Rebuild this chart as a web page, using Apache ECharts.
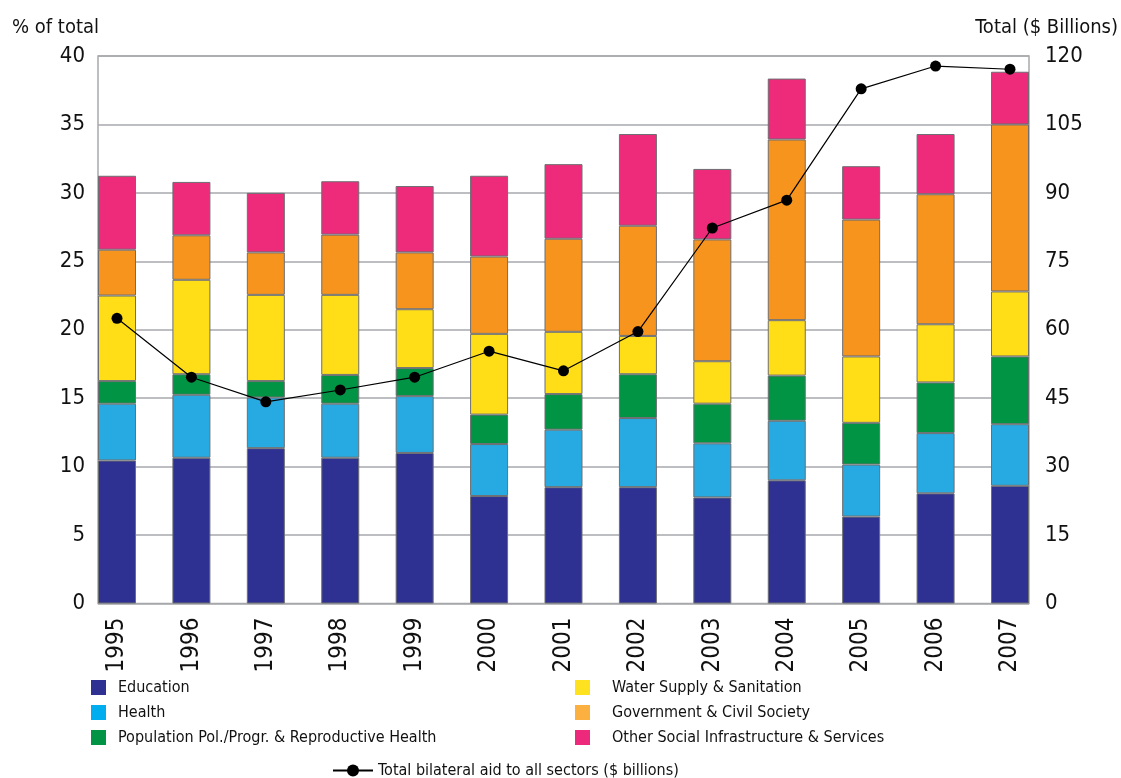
<!DOCTYPE html>
<html>
<head>
<meta charset="utf-8">
<script src="https://cdn.jsdelivr.net/npm/echarts@6/dist/echarts.min.js"></script>
<style>
html,body{margin:0;padding:0;background:#fff;}
#chart{width:1121px;height:778px;}
</style>
</head>
<body>
<div id="chart"></div>
<script>
const years = ['1995','1996','1997','1998','1999','2000','2001','2002','2003','2004','2005','2006','2007'];
const education  = [10.45,10.65,11.35,10.65,11.0,7.85,8.5,8.5,7.75,9.0,6.35,8.05,8.6];
const health     = [4.15,4.6,3.7,3.95,4.15,3.8,4.2,5.05,3.95,4.35,3.8,4.4,4.5];
const population = [1.65,1.5,1.2,2.1,2.05,2.15,2.6,3.2,2.9,3.3,3.05,3.7,4.95];
const water      = [6.25,6.9,6.3,5.85,4.3,5.9,4.55,2.8,3.1,4.05,4.85,4.25,4.75];
const government = [3.35,3.25,3.1,4.4,4.15,5.65,6.8,8.05,8.9,13.2,10.0,9.5,12.2];
const otherSocial= [5.4,3.9,4.35,3.9,4.85,5.9,5.45,6.7,5.15,4.45,3.9,4.4,3.85];
const totalAid   = [62.5,49.6,44.2,46.8,49.6,55.3,51.0,59.6,82.3,88.4,112.8,117.8,117.1];
const leftTicks  = [0,40,5];   // min, max, interval (% of total)
const rightTicks = [0,120,15]; // min, max, interval ($ billions)

const FONT = "'DejaVu Sans Condensed','Liberation Sans Narrow','Liberation Sans',sans-serif";
const names = ['Education','Health','Population Pol./Progr. & Reproductive Health','Water Supply & Sanitation','Government & Civil Society','Other Social Infrastructure & Services'];
const colors = ['#2E3192','#27AAE1','#009444','#FFDE17','#F7941D','#EE2A7B'];
const legendColors = ['#2E3192','#00AEEF','#009444','#FFE21F','#FBB040','#EC297B'];
const dataSets = [education,health,population,water,government,otherSocial];
const lineName = 'Total bilateral aid to all sectors ($ billions)';

const chart = echarts.init(document.getElementById('chart'), null, {renderer:'canvas'});
const gridTop = 56, gridBottom = 174.5;

const barSeries = names.map((n,i)=>({
  name:n, type:'bar', stack:'s', xAxisIndex:1, yAxisIndex:2,
  barWidth:38,
  itemStyle:{color:colors[i], borderColor:'#6D6E71', borderWidth:1},
  data: dataSets[i]
}));

const legText = {fontSize:16, color:'#111', fontFamily:FONT, lineHeight:15};

chart.setOption({
  animation:false,
  backgroundColor:'#fff',
  grid:[
    {left:98, right:92, top:gridTop, bottom:gridBottom, show:true, borderColor:'#A7A9AC', borderWidth:1.5, backgroundColor:'transparent'},
    {left:117, right:111, top:gridTop, bottom:gridBottom}
  ],
  xAxis:[
    {type:'value', gridIndex:0, min:0, max:1, show:false},
    {type:'category', gridIndex:1, data:years, boundaryGap:false,
     axisLine:{show:false}, axisTick:{show:false},
     axisLabel:{rotate:90, margin:14, fontSize:24, color:'#111', fontFamily:FONT, interval:0}}
  ],
  yAxis:[
    {type:'value', gridIndex:0, min:leftTicks[0], max:leftTicks[1], interval:leftTicks[2], position:'left',
     name:'% of total', nameLocation:'end', nameGap:18,
     nameTextStyle:{fontSize:20, color:'#111', fontFamily:FONT, align:'right', padding:[0,-1,0,0]},
     axisLine:{show:false}, axisTick:{show:false},
     axisLabel:{fontSize:22, color:'#111', fontFamily:FONT, margin:13},
     splitLine:{lineStyle:{color:'#A7A9AC', width:1.5}}},
    {type:'value', gridIndex:0, min:rightTicks[0], max:rightTicks[1], interval:rightTicks[2], position:'right',
     name:'Total ($ Billions)', nameLocation:'end', nameGap:18,
     nameTextStyle:{fontSize:20, color:'#111', fontFamily:FONT, align:'right', padding:[0,-89,0,0]},
     axisLine:{show:false}, axisTick:{show:false},
     axisLabel:{fontSize:22, color:'#111', fontFamily:FONT, margin:16},
     splitLine:{show:false}},
    {type:'value', gridIndex:1, min:leftTicks[0], max:leftTicks[1], show:false},
    {type:'value', gridIndex:1, min:rightTicks[0], max:rightTicks[1], show:false}
  ],
  legend:[
    {left:86, top:674.5, orient:'vertical', icon:'rect', itemWidth:15, itemHeight:15, itemGap:9,
     textStyle:Object.assign({padding:[0,0,0,7]}, legText),
     data:names.slice(0,3).map((n,i)=>({name:n, itemStyle:{color:legendColors[i], borderWidth:0}})),
     selectedMode:false},
    {left:570, top:674.5, orient:'vertical', icon:'rect', itemWidth:15, itemHeight:15, itemGap:9,
     textStyle:Object.assign({padding:[0,0,0,17]}, legText),
     data:names.slice(3).map((n,i)=>({name:n, itemStyle:{color:legendColors[i+3], borderWidth:0}})),
     selectedMode:false},
    {left:327, top:757.5, itemWidth:40, itemHeight:15,
     textStyle:Object.assign({padding:[0,0,0,0]}, legText),
     data:[lineName], selectedMode:false}
  ],
  series:[
    ...barSeries,
    {name:lineName, type:'line', xAxisIndex:1, yAxisIndex:3, data:totalAid,
     symbol:'circle', symbolSize:11, z:10,
     lineStyle:{color:'#000', width:1.2}, itemStyle:{color:'#000'}}
  ]
});
</script>
</body>
</html>
